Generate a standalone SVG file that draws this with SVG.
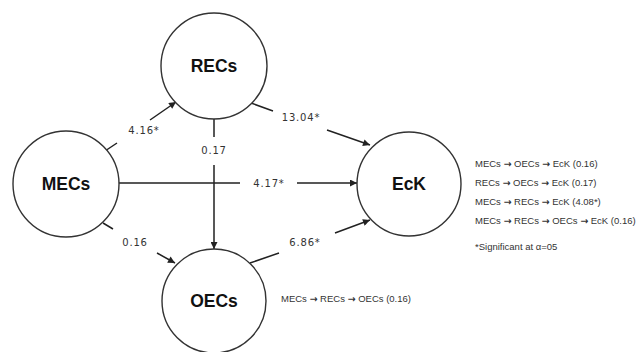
<svg xmlns="http://www.w3.org/2000/svg" width="642" height="352" viewBox="0 0 642 352">
<defs>
<marker id="ah" viewBox="0 0 10 10" refX="10" refY="5" markerWidth="8" markerHeight="7" markerUnits="userSpaceOnUse" orient="auto">
<path d="M0,0 L10,5 L0,10 z" fill="#222"/>
</marker>
<style>
.node circle{fill:#fff;stroke:#333;stroke-width:1.4}
.node text{font-family:"Liberation Sans",Arial,sans-serif;font-weight:bold;font-size:17.5px;fill:#111;text-anchor:middle;dominant-baseline:central}
.edge{fill:none;stroke:#222;stroke-width:1.5}
.el{font-family:"DejaVu Sans",sans-serif;font-size:10px;letter-spacing:0.8px;fill:#333;text-anchor:middle;dominant-baseline:central}
.note{font-family:"Liberation Sans",Arial,sans-serif;font-size:9.5px;fill:#333}
.ar{font-family:"DejaVu Sans",sans-serif;font-weight:bold}
</style>
</defs>
<rect width="642" height="352" fill="#fff"/>
<g id="connectors">
<path class="edge" d="M105,151 L117,143 M150,120 L176,102" marker-end="url(#ah)"/>
<text class="el" x="144" y="130">4.16*</text>
<path class="edge" d="M251,103 L273,111 M327,130 L370,145" marker-end="url(#ah)"/>
<text class="el" x="301" y="117">13.04*</text>
<path class="edge" d="M118,183 L240,183 M297,183 L357,183" marker-end="url(#ah)"/>
<text class="el" x="269" y="183">4.17*</text>
<path class="edge" d="M214,119 L214,137 M214,165 L214,249" marker-end="url(#ah)"/>
<text class="el" x="214" y="150">0.17</text>
<path class="edge" d="M103,223 L113,229 M157,253 L175,263" marker-end="url(#ah)"/>
<text class="el" x="135" y="242">0.16</text>
<path class="edge" d="M250,263 L279,253 M335,233 L370,220" marker-end="url(#ah)"/>
<text class="el" x="305" y="242">6.86*</text>
</g>
<g id="node-MECs" class="node"><circle cx="66" cy="184" r="53"/><text x="66" y="184">MECs</text></g>
<g id="node-RECs" class="node"><circle cx="214" cy="66" r="53"/><text x="214" y="66">RECs</text></g>
<g id="node-OECs" class="node"><circle cx="214" cy="301" r="52"/><text x="214" y="301">OECs</text></g>
<g id="node-EcK" class="node"><circle cx="409" cy="184" r="52"/><text x="409" y="184">EcK</text></g>
<g id="notes">
<text class="note" x="475" y="167">MECs <tspan class="ar">→</tspan> OECs <tspan class="ar">→</tspan> EcK (0.16)</text>
<text class="note" x="475" y="186">RECs <tspan class="ar">→</tspan> OECs <tspan class="ar">→</tspan> EcK (0.17)</text>
<text class="note" x="475" y="205">MECs <tspan class="ar">→</tspan> RECs <tspan class="ar">→</tspan> EcK (4.08*)</text>
<text class="note" x="475" y="224">MECs <tspan class="ar">→</tspan> RECs <tspan class="ar">→</tspan> OECs <tspan class="ar">→</tspan> EcK (0.16)</text>
<text class="note" x="475" y="250">*Significant at α=05</text>
<text class="note" x="281" y="302">MECs <tspan class="ar">→</tspan> RECs <tspan class="ar">→</tspan> OECs (0.16)</text>
</g>
</svg>
